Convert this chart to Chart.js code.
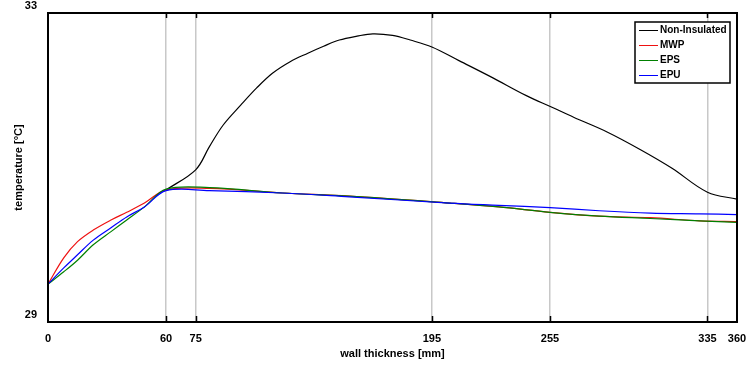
<!DOCTYPE html>
<html>
<head>
<meta charset="utf-8">
<script src="https://cdn.jsdelivr.net/npm/chart.js@4.4.0/dist/chart.umd.min.js"></script>
<style>
  html, body { margin: 0; padding: 0; background: #fff; }
  #wrap { width: 749px; height: 365px; }
</style>
</head>
<body>
<div id="wrap"><canvas id="tempChart"></canvas></div>
<script>
// --- datos ---
const seriesNames = ['Non-Insulated', 'MWP', 'EPS', 'EPU'];

// espesor de pared [mm] para los tres aislantes
const thickness = [0, 8, 15, 23, 32, 40, 49, 60, 82, 119, 153, 204, 229, 255, 280, 306, 331, 350];
const tempMwp = [29.49, 29.83, 30.04, 30.19, 30.32, 30.42, 30.54, 30.71, 30.73, 30.67, 30.63, 30.54, 30.49, 30.42, 30.37, 30.35, 30.31, 30.30];
const tempEps = [29.49, 29.65, 29.80, 30.00, 30.17, 30.32, 30.49, 30.72, 30.74, 30.67, 30.63, 30.54, 30.49, 30.42, 30.37, 30.34, 30.31, 30.29];
const tempEpu = [29.49, 29.70, 29.87, 30.06, 30.22, 30.36, 30.49, 30.70, 30.70, 30.67, 30.62, 30.54, 30.51, 30.48, 30.44, 30.41, 30.40, 30.39];

// muro sin aislar
const thicknessBare = [60, 75, 82, 89, 98, 106, 114, 123, 132, 140, 148, 157, 165, 175, 184, 195, 209, 226, 243, 256, 267, 284, 301, 317, 335, 350];
const tempBare = [30.71, 30.97, 31.27, 31.55, 31.81, 32.03, 32.22, 32.37, 32.48, 32.57, 32.65, 32.70, 32.73, 32.71, 32.65, 32.56, 32.38, 32.16, 31.93, 31.78, 31.65, 31.46, 31.23, 30.99, 30.68, 30.59];

// marcas de los ejes
const tickValues = [0, 60, 75, 195, 255, 335, 350];
const tickLabels = ['0', '60', '75', '195', '255', '335', '360'];
const yTicks = [29, 33];

const FONT = '"Liberation Sans", Arial, sans-serif';

function toPoints(xs, ys) {
    return xs.map((x, i) => ({ x: x, y: ys[i] }));
}

// marco negro, marcas interiores y leyenda con recuadro
const framePlugin = {
    id: 'frame',
    afterDraw(chart) {
        const { ctx, chartArea: a, scales } = chart;
        ctx.save();
        // marcas de graduación hacia dentro
        ctx.strokeStyle = '#000';
        ctx.lineWidth = 1.5;
        tickValues.slice(1, -1).forEach(v => {
            const px = Math.round(scales.x.getPixelForValue(v)) + 0.5;
            ctx.beginPath();
            ctx.moveTo(px, a.bottom);
            ctx.lineTo(px, a.bottom - 6);
            ctx.moveTo(px, a.top);
            ctx.lineTo(px, a.top + 5);
            ctx.stroke();
        });
        // marco
        ctx.lineWidth = 2;
        ctx.strokeRect(a.left, a.top, a.right - a.left, a.bottom - a.top);

        // leyenda
        const bx = 635, by = 22, bw = 95, bh = 61;
        ctx.fillStyle = '#fff';
        ctx.fillRect(bx, by, bw, bh);
        ctx.lineWidth = 1.5;
        ctx.strokeRect(bx, by, bw, bh);
        ctx.font = 'bold 10px ' + FONT;
        ctx.textBaseline = 'middle';
        ctx.textAlign = 'left';
        chart.data.datasets.forEach((ds, i) => {
            const y = by + 8 + i * 15;
            ctx.strokeStyle = ds.borderColor;
            ctx.lineWidth = 1;
            ctx.beginPath();
            ctx.moveTo(bx + 4, y + 0.5);
            ctx.lineTo(bx + 23, y + 0.5);
            ctx.stroke();
            ctx.fillStyle = '#000';
            ctx.fillText(ds.label, bx + 25, y);
        });
        ctx.restore();
    }
};

const lineStyle = {
    pointRadius: 0,
    borderWidth: 1.2,
    fill: false,
    tension: 0.35
};

const ctx = document.getElementById('tempChart').getContext('2d');
new Chart(ctx, {
    type: 'line',
    data: {
        datasets: [
            { label: seriesNames[0], data: toPoints(thicknessBare, tempBare), borderColor: '#000000', order: 4, ...lineStyle },
            { label: seriesNames[1], data: toPoints(thickness, tempMwp), borderColor: '#ee1111', order: 3, ...lineStyle },
            { label: seriesNames[2], data: toPoints(thickness, tempEps), borderColor: '#008000', order: 2, ...lineStyle },
            { label: seriesNames[3], data: toPoints(thickness, tempEpu), borderColor: '#0000ff', order: 1, ...lineStyle }
        ]
    },
    options: {
        responsive: true,
        maintainAspectRatio: false,
        animation: false,
        layout: {
            padding: { top: 13, right: 12, left: 0, bottom: 0 }
        },
        plugins: {
            legend: { display: false },
            tooltip: { enabled: false }
        },
        scales: {
            x: {
                type: 'linear',
                min: 0,
                max: 350,
                afterBuildTicks: scale => {
                    scale.ticks = tickValues.map(v => ({ value: v }));
                },
                afterFit: scale => {
                    scale.height = 43;
                    scale.paddingLeft = 0;
                    scale.paddingRight = 0;
                },
                border: { display: false },
                grid: {
                    drawTicks: false,
                    lineWidth: 1.5,
                    color: c => (c.index === 0 || c.index === tickValues.length - 1) ? 'rgba(0,0,0,0)' : '#c8c8c8'
                },
                ticks: {
                    autoSkip: false,
                    maxRotation: 0,
                    padding: 10,
                    color: '#000',
                    font: { family: FONT, size: 11, weight: 'bold' },
                    callback: (v, i) => tickLabels[i]
                },
                title: {
                    display: true,
                    text: 'wall thickness [mm]',
                    color: '#000',
                    font: { family: FONT, size: 11, weight: 'bold' },
                    padding: { top: 0, bottom: 4 }
                }
            },
            y: {
                min: 29,
                max: 33,
                afterBuildTicks: scale => {
                    scale.ticks = yTicks.map(v => ({ value: v }));
                },
                afterFit: scale => {
                    scale.width = 48;
                    scale.paddingTop = 0;
                    scale.paddingBottom = 0;
                },
                border: { display: false },
                grid: { display: false, drawTicks: false },
                ticks: {
                    padding: 11,
                    labelOffset: -7,
                    color: '#000',
                    font: { family: FONT, size: 11, weight: 'bold' }
                },
                title: {
                    display: true,
                    text: 'temperature [°C]',
                    color: '#000',
                    font: { family: FONT, size: 11, weight: 'bold' },
                    padding: { top: 12, bottom: 0 }
                }
            }
        }
    },
    plugins: [framePlugin]
});
</script>
</body>
</html>
